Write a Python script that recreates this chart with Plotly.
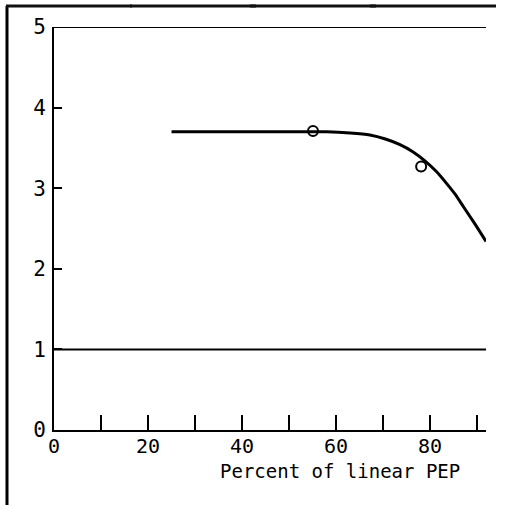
import plotly.graph_objects as go

# Data
curve_x = [25, 45, 58, 63, 67.2, 70.5, 73.6, 76.4, 78.9, 81.3, 83.5, 85.4, 87.1, 89.5, 91.9]
curve_y = [3.70, 3.70, 3.70, 3.685, 3.66, 3.61, 3.54, 3.45, 3.34, 3.21, 3.06, 2.92, 2.77, 2.56, 2.34]
point_x = [55.1, 78.1]
point_y = [3.71, 3.27]
ref_lines_y = [5, 1]
x_range = [0, 91.9]
y_range = [0, 5]
x_tickvals = [0, 10, 20, 30, 40, 50, 60, 70, 80, 90]
x_ticktext = ["0", "", "20", "", "40", "", "60", "", "80", ""]
y_tickvals = [0, 1, 2, 3, 4, 5]
y_ticktext = ["0", "1", "2", "3", "4", "5"]
x_title = "Percent of linear PEP"

FONT = "DejaVu Sans Mono"
W, H = 520, 505
L, R, T, B = 54, 34, 27, 75
pw, ph = W - L - R, H - T - B

fig = go.Figure()
for yv in ref_lines_y:
    fig.add_trace(go.Scatter(x=x_range, y=[yv, yv], mode="lines",
                             line=dict(color="black", width=2), hoverinfo="skip"))
fig.add_trace(go.Scatter(x=curve_x, y=curve_y, mode="lines",
                         line=dict(color="black", width=3, shape="spline", smoothing=0.5)))
fig.add_trace(go.Scatter(x=point_x, y=point_y, mode="markers",
                         marker=dict(symbol="circle-open", size=10, color="black",
                                     line=dict(width=2, color="black"))))

def px_x(p):
    return (p - L) / pw

def px_y(p):
    return (H - B - p) / ph

# outer frame: left edge and top edge
fig.add_shape(type="line", xref="paper", yref="paper",
              x0=px_x(7), x1=px_x(7), y0=px_y(6), y1=px_y(505),
              line=dict(color="black", width=3), layer="above")
for xa in [6, 130, 250, 370]:
    fig.add_shape(type="line", xref="paper", yref="paper",
                  x0=px_x(xa), x1=px_x(min(xa + 126, 520)), y0=px_y(6), y1=px_y(6),
                  line=dict(color="#111111", width=3), layer="above")

fig.add_annotation(text=x_title, xref="paper", yref="paper",
                   x=px_x(340), y=px_y(471), showarrow=False,
                   xanchor="center", yanchor="middle",
                   font=dict(family=FONT, size=19, color="black"))

fig.update_layout(
    width=W, height=H,
    margin=dict(l=L, r=R, t=T, b=B, pad=0),
    paper_bgcolor="white", plot_bgcolor="white",
    showlegend=False,
    font=dict(family=FONT, color="black"),
    xaxis=dict(range=x_range, showgrid=False, zeroline=False,
               showline=True, linecolor="black", linewidth=2,
               ticks="inside", ticklen=15, tickwidth=2, tickcolor="black",
               tickvals=x_tickvals, ticktext=x_ticktext,
               ticklabelstandoff=-3,
               tickfont=dict(family=FONT, size=20)),
    yaxis=dict(range=y_range, showgrid=False, zeroline=False,
               showline=True, linecolor="black", linewidth=2,
               ticks="inside", ticklen=8, tickwidth=2, tickcolor="black",
               tickvals=y_tickvals, ticktext=y_ticktext,
               ticklabelstandoff=2,
               tickfont=dict(family=FONT, size=21)),
)

fig.write_html("out.html", config={"displayModeBar": False},
               post_script="document.body.style.margin='0';")
